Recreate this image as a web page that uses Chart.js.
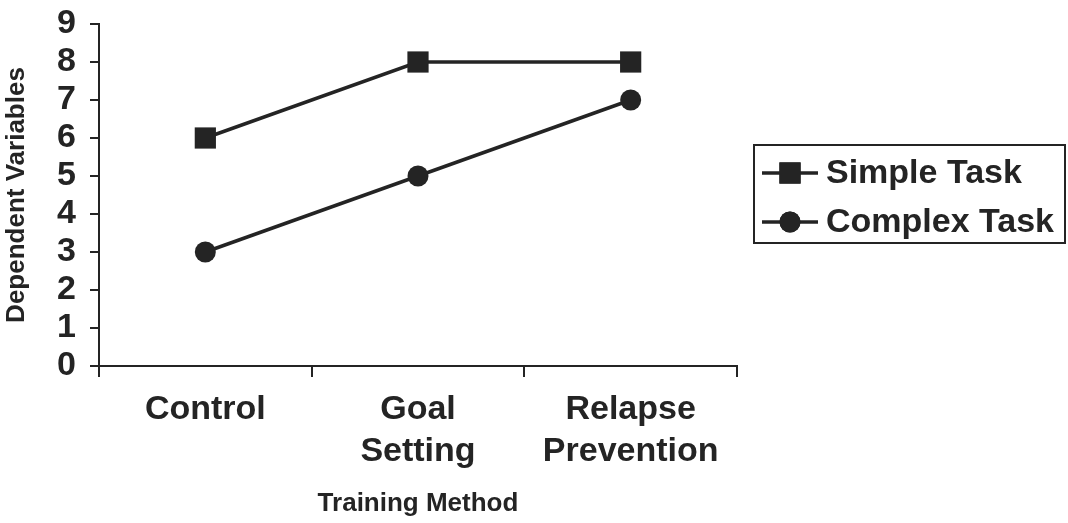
<!DOCTYPE html>
<html>
<head>
<meta charset="utf-8">
<script src="https://cdn.jsdelivr.net/npm/chart.js@4/dist/chart.umd.min.js"></script>
<style>
  html, body { margin: 0; padding: 0; background: #ffffff; }
  #wrap { width: 1068px; height: 523px; position: relative; }
</style>
</head>
<body>
<div id="wrap"><canvas id="c" width="1068" height="523"></canvas></div>
<script>
// ---- data ----
const categories = [['Control'], ['Goal', 'Setting'], ['Relapse', 'Prevention']];
const seriesNames = ['Simple Task', 'Complex Task'];
const simpleTask = [6, 8, 8];
const complexTask = [3, 5, 7];
const yTicks = [0, 1, 2, 3, 4, 5, 6, 7, 8, 9];
const xTitle = 'Training Method';
const yTitle = 'Dependent Variables';

const INK = '#242424';
const FONT = '"Liberation Sans", Arial, Helvetica, sans-serif';

const legendPlugin = {
  id: 'boxLegend',
  afterDraw(chart) {
    const ctx = chart.ctx;
    const box = { x: 754, y: 145, w: 311, h: 98 };
    ctx.save();
    ctx.strokeStyle = INK;
    ctx.lineWidth = 2;
    ctx.strokeRect(box.x, box.y, box.w, box.h);
    const rowsY = [173, 222];
    chart.data.datasets.forEach((ds, i) => {
      const y = rowsY[i];
      ctx.strokeStyle = INK;
      ctx.lineWidth = 3.5;
      ctx.beginPath();
      ctx.moveTo(762, y);
      ctx.lineTo(818, y);
      ctx.stroke();
      ctx.fillStyle = INK;
      Chart.helpers.drawPoint(ctx, {
        pointStyle: ds.pointStyle,
        radius: ds.pointRadius,
        borderWidth: 0
      }, 790, y);
      ctx.fill();
      ctx.font = 'bold 34px ' + FONT;
      ctx.textBaseline = 'middle';
      ctx.textAlign = 'left';
      ctx.fillText(ds.label, 826, y + 1);
    });
    ctx.restore();
  }
};

new Chart(document.getElementById('c'), {
  type: 'line',
  data: {
    labels: categories,
    datasets: [
      {
        label: seriesNames[0],
        data: simpleTask,
        borderColor: INK,
        backgroundColor: INK,
        borderWidth: 3.5,
        pointStyle: 'rect',
        pointRadius: 15,
        pointBorderWidth: 0,
        pointBackgroundColor: INK,
        tension: 0
      },
      {
        label: seriesNames[1],
        data: complexTask,
        borderColor: INK,
        backgroundColor: INK,
        borderWidth: 3.5,
        pointStyle: 'circle',
        pointRadius: 10.5,
        pointBorderWidth: 0,
        pointBackgroundColor: INK,
        tension: 0
      }
    ]
  },
  options: {
    responsive: false,
    animation: false,
    layout: { padding: { top: 24, right: 331, left: 0, bottom: 0 } },
    plugins: {
      legend: { display: false },
      tooltip: { enabled: false }
    },
    scales: {
      x: {
        type: 'category',
        offset: true,
        grid: {
          offset: true,
          drawOnChartArea: false,
          drawTicks: true,
          tickLength: 11,
          color: INK,
          lineWidth: 2
        },
        border: { display: true, color: INK, width: 2 },
        ticks: {
          color: INK,
          padding: 12,
          maxRotation: 0,
          autoSkip: false,
          font: { family: FONT, size: 34, weight: 'bold', lineHeight: 1.22 }
        },
        title: {
          display: true,
          text: xTitle,
          color: INK,
          padding: { top: 0, bottom: 4 },
          font: { family: FONT, size: 26, weight: 'bold' }
        },
        afterFit(scale) { scale.height = 157; }
      },
      y: {
        min: yTicks[0],
        max: yTicks[yTicks.length - 1],
        afterBuildTicks(scale) { scale.ticks = yTicks.map(v => ({ value: v })); },
        grid: {
          drawOnChartArea: false,
          drawTicks: true,
          tickLength: 9,
          color: INK,
          lineWidth: 2
        },
        border: { display: true, color: INK, width: 2 },
        ticks: {
          color: INK,
          padding: 14,
          autoSkip: false,
          font: { family: FONT, size: 34, weight: 'bold', lineHeight: 1.0 }
        },
        title: {
          display: true,
          text: yTitle,
          color: INK,
          padding: { top: 1, bottom: 0 },
          font: { family: FONT, size: 26, weight: 'bold' }
        },
        afterFit(scale) {
          scale.width = 99;
          scale.paddingTop = 0;
          scale.paddingBottom = 0;
        }
      }
    }
  },
  plugins: [legendPlugin]
});
</script>
</body>
</html>
